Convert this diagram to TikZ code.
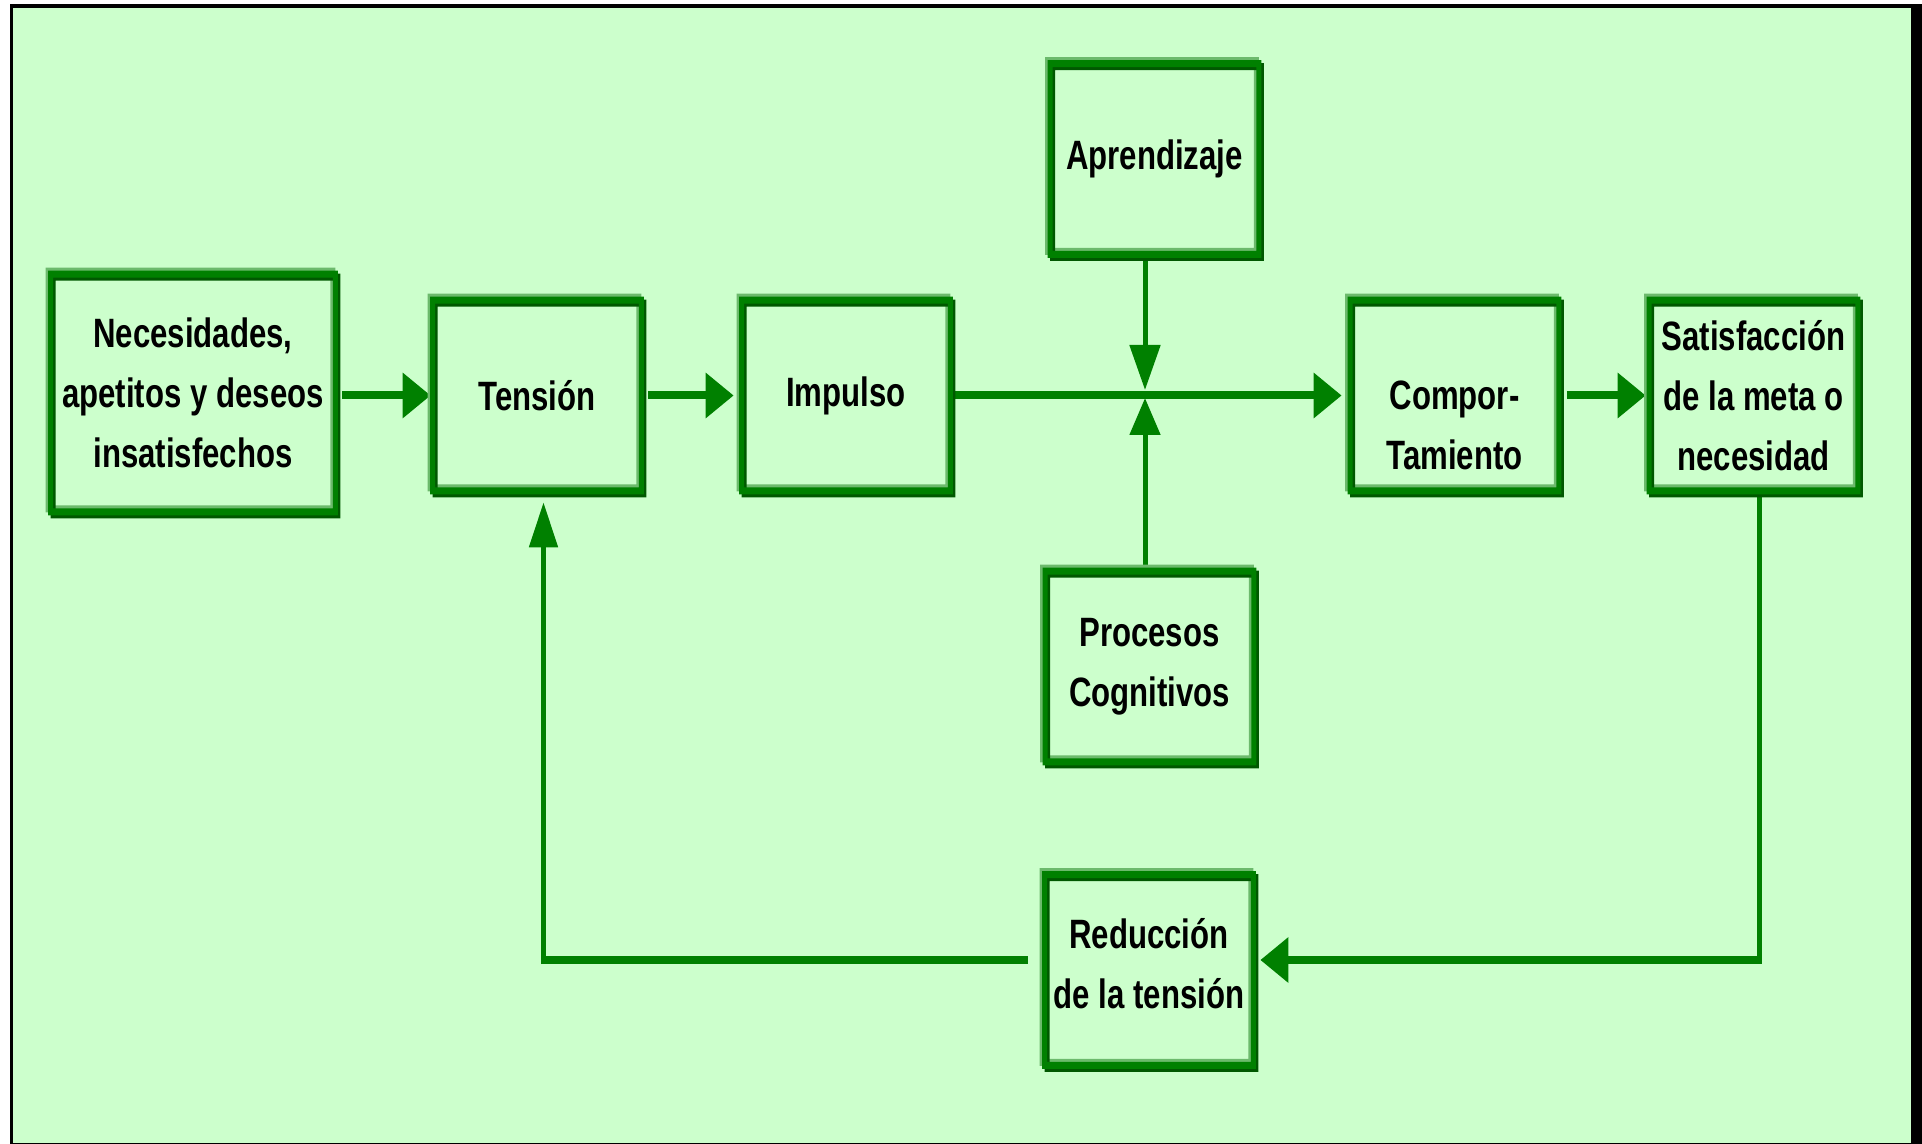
\documentclass[tikz,border=0pt]{standalone}
\usepackage{fontspec}
\setmainfont{Liberation Sans}
\newfontfamily\boxfont{Liberation Sans}[FakeStretch=0.76]
\usetikzlibrary{arrows.meta,calc}
\definecolor{bgg}{HTML}{CCFFCC}
\definecolor{gmain}{HTML}{008000}
\definecolor{glight}{HTML}{6CBA6C}
\definecolor{gdark}{HTML}{005800}
\newcommand\gframe[1]{%
 \fill[glight,even odd rule] ($(#1.north west)+(-5,-6.5)$) rectangle ($(#1.south east)+(0,0.5)$) ($(#1.north west)+(0,0.5)$) rectangle ($(#1.south east)+(-5,-6.5)$);
 \fill[gdark,even odd rule] ($(#1.north west)+(0,-0.5)$) rectangle ($(#1.south east)+(5,6.5)$) ($(#1.north west)+(5,6.5)$) rectangle ($(#1.south east)+(0,-0.5)$);
 \fill[gmain,even odd rule] ($(#1.north west)+(-2.5,-3.5)$) rectangle ($(#1.south east)+(2.5,3.5)$) ($(#1.north west)+(2.5,3.5)$) rectangle ($(#1.south east)+(-2.5,-3.5)$);
}
\begin{document}
\begin{tikzpicture}[x=0.5pt,y=-0.5pt,
  txt/.style={inner sep=0pt, align=center, text=black, font=\boxfont\bfseries\fontsize{20.5}{30}\selectfont},
  box/.style={txt, rectangle, minimum width=104pt, minimum height=95pt},
  hline/.style={draw=gmain, line width=4pt},
  vline/.style={draw=gmain, line width=2.5pt},
  harr/.style={-{Triangle[length=14pt,width=22pt]}},
  varr/.style={-{Triangle[length=22.5pt,width=14pt]}},
  varrdn/.style={-{Triangle[length=22.5pt,width=15pt]}},
  varrup/.style={-{Triangle[length=18.5pt,width=15pt]}}]
\useasboundingbox (0,0) rectangle (1922,1144);
\fill[white] (0,0) rectangle (1922,1144);
\fill[black] (10,4) rectangle (1922,1144);
\fill[bgg] (13,8) rectangle (1911,1142.5);

% boxes
\node[box, minimum width=142pt, minimum height=118.5pt] (b1) at (193,393) {Necesidades,\\apetitos y deseos\\insatisfechos};
\node[box] (bt) at (537,395.5) {Tensión};
\node[box] (bi) at (846,395.5) {Impulso};
\node[box] (ba) at (1154.5,159) {Aprendizaje};
\node[box] (bc) at (1454.5,395.5) {};
\node[txt] (tc) at (1454.5,425) {Compor-\\Tamiento};
\node[box] (bs) at (1753.5,395.5) {Satisfacción\\de la meta o\\necesidad};
\node[box] (bp) at (1149.5,666.5) {Procesos\\Cognitivos};
\node[box] (br) at (1149,970) {};
\node[txt] (tr) at (1149,964) {Reducción\\de la tensión};

\coordinate (j) at (1145,395);
\coordinate (c1) at (1759.5,960);
\coordinate (c2) at (543.5,960);

% connectors
\draw[hline,harr] ($(b1.east |- bt.west)+(7,0)$) -- ($(bt.west)+(-2,0)$);
\draw[hline,harr] ($(bt.east)+(7,0)$) -- ($(bi.west)+(-8,0)$);
\draw[hline,harr] (bi.east) -- ($(bc.west)+(-8.5,0)$);
\draw[hline,harr] ($(bc.east)+(8,0)$) -- ($(bs.west)+(-3.5,0)$);
\draw[vline,varrdn] (ba.south -| j) -- ($(j)+(0,-5)$);
\draw[vline,varrup] (bp.north -| j) -- ($(j)+(0,3)$);
\draw[vline] (bs.south -| c1) -- ($(c1)+(0,4)$);
\draw[hline,harr] ($(c1)+(1.25,0)$) -- ($(br.east |- c1)+(7,0)$);
\draw[hline] ($(br.west |- c2)+(-17,0)$) -- ($(c2)+(-1.25,0)$);
\draw[vline,varr] ($(c2)+(0,4)$) -- ($(bt.south -| c2)+(0,11.5)$);

% frames
\gframe{b1}\gframe{bt}\gframe{bi}\gframe{ba}\gframe{bc}\gframe{bs}\gframe{bp}\gframe{br}
\end{tikzpicture}
\end{document}
